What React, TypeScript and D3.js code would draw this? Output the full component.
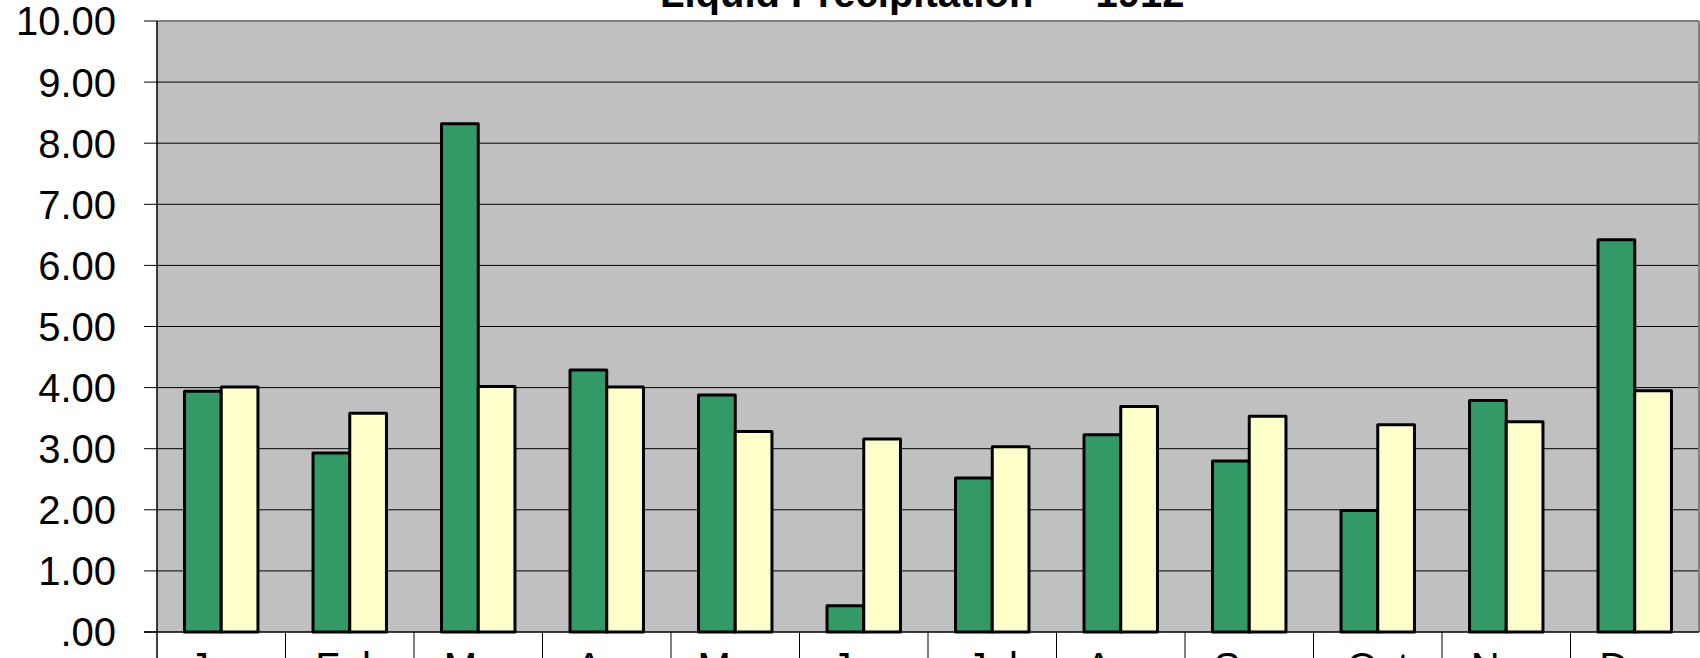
import React from "react";
import * as d3 from "d3";

const months = ["Jan", "Feb", "Mar", "Apr", "May", "Jun", "Jul", "Aug", "Sep", "Oct", "Nov", "Dec"];
const actual1912 = [3.94, 2.93, 8.32, 4.29, 3.88, 0.43, 2.52, 3.23, 2.80, 1.99, 3.79, 6.42];
const normalValues = [4.01, 3.58, 4.02, 4.01, 3.28, 3.16, 3.03, 3.69, 3.53, 3.39, 3.44, 3.95];
const yTicks = [0, 1, 2, 3, 4, 5, 6, 7, 8, 9, 10];
const title = "Liquid Precipitation \u2014 1912";

const W = 1700;
const H = 658;
const left = 157;
const right = 1699;
const top = 21;
const bottom = 632;

export default function App() {
  const x = d3.scaleBand<string>().domain(months).range([left, right]).paddingInner(0).paddingOuter(0);
  const y = d3.scaleLinear().domain([0, 10]).range([bottom, top]);
  const cw = x.bandwidth();
  const bw = cw / 3.5;
  const inner = d3.scaleBand<number>().domain([0, 1]).range([0.75 * bw, 2.75 * bw]);
  const fmt = (v: number) => (v === 0 ? ".00" : d3.format(".2f")(v));
  const font = "'Liberation Sans', Arial, sans-serif";
  const series = [
    { vals: actual1912, fill: "#339966" },
    { vals: normalValues, fill: "#FFFFCC" },
  ];
  return (
    <svg width={W} height={H} style={{ position: "absolute", left: 0, top: 0 }} fontFamily={font}>
      <rect x={0} y={0} width={W} height={H} fill="#ffffff" />
      <rect x={left} y={top} width={right - left} height={bottom - top} fill="#C0C0C0" />
      {yTicks.map((t) => (
        <g key={t}>
          {t > 0 && t < 10 && (
            <line x1={left} x2={right} y1={y(t)} y2={y(t)} stroke="#000" strokeWidth={1} />
          )}
          <line x1={left - 13} x2={left} y1={y(t)} y2={y(t)} stroke="#000" strokeWidth={1} />
          <text x={116} y={y(t)} dy="0.36em" textAnchor="end" fontSize={40} fill="#000">
            {fmt(t)}
          </text>
        </g>
      ))}
      <line x1={left} x2={right} y1={top} y2={top} stroke="#808080" strokeWidth={2} />
      <line x1={right} x2={right} y1={top} y2={bottom} stroke="#808080" strokeWidth={2} />
      {series.map((s, si) =>
        s.vals.map((v, i) => (
          <rect
            key={`${si}-${i}`}
            x={(x(months[i]) as number) + (inner(si) as number)}
            y={y(v)}
            width={inner.bandwidth()}
            height={bottom - y(v)}
            fill={s.fill}
            stroke="#000"
            strokeWidth={3}
            strokeLinejoin="round"
          />
        ))
      )}
      <line x1={left} x2={left} y1={top} y2={H} stroke="#000" strokeWidth={1.5} />
      <line x1={left - 13} x2={right} y1={bottom} y2={bottom} stroke="#000" strokeWidth={1.5} />
      {months.map((m, i) => (
        <g key={m}>
          {i > 0 && (
            <line x1={x(m)} x2={x(m)} y1={bottom} y2={H} stroke="#000" strokeWidth={1} />
          )}
          <text x={(x(m) as number) + cw / 2} y={681} textAnchor="middle" fontSize={40} fill="#000">
            {m}
          </text>
        </g>
      ))}
      <text x={660} y={7} textAnchor="start" fontSize={40} fontWeight="bold" fill="#000">
        {title}
      </text>
    </svg>
  );
}
